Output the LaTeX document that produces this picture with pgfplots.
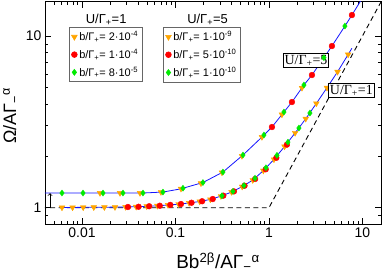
\documentclass[border=0pt]{standalone}
\usepackage{fontspec}
\setmainfont{Liberation Sans}
\newfontfamily\seriffont{Liberation Serif}
\usepackage{amsmath}
\usepackage{pgfplots}
\pgfplotsset{compat=1.18}
\definecolor{mOrange}{RGB}{255,165,0}
\definecolor{mRed}{RGB}{255,0,0}
\definecolor{mGreen}{RGB}{0,235,0}
\definecolor{mBlue}{RGB}{20,20,255}
\tikzset{
  myorm/.style={only marks, mark=triangle*, mark size=3.3, mark options={rotate=180, fill=mOrange, draw=mOrange}},
  myrdm/.style={only marks, mark=*, mark size=2.9, mark options={fill=mRed, draw=mRed}},
  mygrm/.style={only marks, mark=diamond*, mark size=3.0, mark options={fill=mGreen, draw=mGreen}},
}
\begin{document}
\begin{tikzpicture}
% ---------------- U/Gamma = 1 ----------------
\begin{axis}[name=main,
    xmode=log, ymode=log,
    scale only axis, width=336bp, height=222.3bp,
    xmin=0.00402, xmax=15.8, ymin=0.804, ymax=15.85,
    axis line style={line width=0.9pt},
    tick align=inside,
    major tick length=6bp, minor tick length=3.5bp,
    tick style={line width=0.7pt, black},
    xtick={0.01,0.1,1,10}, xticklabels={0.01,0.1,1,10},
    ytick={1,10}, yticklabels={1,10},
    minor xtick={0.005,0.006,0.007,0.008,0.009,0.02,0.03,0.04,0.05,0.06,0.07,0.08,0.09,0.2,0.3,0.4,0.5,0.6,0.7,0.8,0.9,2,3,4,5,6,7,8,9},
    minor ytick={0.9,2,3,4,5,6,7,8,9},
    tick label style={font=\fontsize{14}{15}\selectfont},
    legend cell align=left,
    legend style={draw=gray!80!black, line width=0.6pt, font=\fontsize{11}{12}\selectfont, inner sep=2pt, row sep=3pt, at={(0.072,0.885)}, anchor=north west},
  xlabel={Bb$^{\text{2β}}$/AΓ$_{\text{−}}{}^{\text{α}}$},
  ylabel={Ω/AΓ$_{\text{−}}{}^{\text{α}}$},
  xlabel style={font=\fontsize{19}{21}\selectfont, at={(rel axis cs:0.515,0)}, anchor=base, yshift=-45bp},
  ylabel style={font=\fontsize{18}{20}\selectfont, at={([xshift=-34bp]rel axis cs:0,0.486)}, anchor=center, rotate=0},
]
\addplot[black, dashed, line width=0.9pt, dash pattern=on 5pt off 3.5pt, forget plot] coordinates {(0.003,1) (1,1) (20,20)};
\addplot[mBlue, line width=0.8pt, forget plot] coordinates {
(0.0058,1.002) (0.00611,1.003) (0.01030,1.005) (0.01737,1.007) (0.02926,1.010) (0.04932,1.019) (0.06403,1.026) (0.08313,1.037) (0.1080,1.049) (0.1401,1.066) (0.1819,1.087) (0.2362,1.118) (0.3066,1.168) (0.3981,1.234) (0.5169,1.327) (0.6711,1.448) (0.8712,1.645) (1.131,1.911) (1.468,2.272) (1.906,2.727) (2.475,3.298) (3.214,4.050) (4.172,4.995) (5.416,6.187) (7.031,7.804) (7.72,8.49)};
\addplot[myorm] coordinates {
(0.00611,1.003)(0.00793,1.004)(0.01030,1.005)(0.01337,1.006)(0.01737,1.007)(0.02254,1.008)(0.02926,1.010)(0.03799,1.012)(0.04932,1.019)(0.06403,1.026)(0.08313,1.037)(0.1080,1.049)(0.1401,1.066)(0.1819,1.087)(0.2362,1.118)(0.3066,1.168)(0.3981,1.234)(0.5169,1.327)(0.6711,1.448)(0.8712,1.645)(1.131,1.911)(1.468,2.272)(1.906,2.727)(2.475,3.298)(3.214,4.050)(4.172,4.995)(5.416,6.187)(7.031,7.804)};
\addlegendentry{b/Γ\textsubscript{+}= 2·10\textsuperscript{-4}}
\addplot[myrdm] coordinates {
(0.0310,1.010)(0.0403,1.013)(0.0523,1.020)(0.0679,1.027)(0.0881,1.039)(0.1145,1.051)(0.1485,1.069)(0.1928,1.091)(0.2504,1.124)(0.3250,1.176)(0.4220,1.245)(0.5479,1.343)(0.7114,1.470)(0.9235,1.675)(1.199,1.953)(1.556,2.330)};
\addlegendentry{b/Γ\textsubscript{+}= 1·10\textsuperscript{-4}}
\addplot[mygrm] coordinates {
(0.3144,1.174)(0.4121,1.246)(0.5401,1.347)(0.7085,1.485)(0.9288,1.710)(1.218,2.019)(1.597,2.410)(2.094,2.912)(2.745,3.561)};
\addlegendentry{b/Γ\textsubscript{+}= 8·10\textsuperscript{-5}}
\node[font=\fontsize{13}{14}\selectfont] at (rel axis cs:0.182,0.918) {U/Γ\textsubscript{+}=1};
\end{axis}
% ---------------- U/Gamma = 5 ----------------
\begin{axis}[
    xmode=log, ymode=log, hide axis,
    scale only axis, width=336bp, height=222.3bp,
    xmin=0.00402, xmax=15.8, ymin=0.804, ymax=15.85,
    legend cell align=left,
    legend style={draw=gray!80!black, line width=0.6pt, font=\fontsize{11}{12}\selectfont, inner sep=2pt, row sep=3pt, at={(0.352,0.885)}, anchor=north west},
]
\addplot[mBlue, line width=0.8pt, forget plot] coordinates {
(0.00402,1.218)(0.02,1.218)(0.0449,1.218)(0.0735,1.234)(0.1117,1.285)(0.1203,1.299)(0.1968,1.402)(0.3221,1.614)(0.5273,2.027)(0.8415,2.580)(1.077,2.951)(1.447,3.609)(1.762,4.127)(2.367,5.184)(2.884,5.928)(3.874,7.483)(4.718,8.745)(6.497,11.43)(7.722,13.25)(9.40,15.78)(10.5,17.4)};
\addplot[myorm] coordinates {
(0.01558,1.218)(0.02550,1.218)(0.04174,1.218)(0.06997,1.233)(0.1145,1.290)(0.1874,1.387)(0.3144,1.603)(0.5143,2.003)(0.8415,2.580)(1.377,3.490)(2.254,4.991)};
\addlegendentry{b/Γ\textsubscript{+}= 1·10\textsuperscript{-9}}
\addplot[myrdm] coordinates {
(1.077,2.951)(1.762,4.127)(2.884,5.928)(4.718,8.745)(7.722,13.25)};
\addlegendentry{b/Γ\textsubscript{+}= 5·10\textsuperscript{-10}}
\addplot[mygrm] coordinates {
(0.00611,1.218)(0.01025,1.218)(0.01678,1.218)(0.02745,1.218)(0.04492,1.218)(0.07348,1.234)(0.1203,1.299)(0.1968,1.402)(0.3221,1.614)(0.5273,2.027)(0.8841,2.651)(1.447,3.609)(2.367,5.184)(3.874,7.483)(6.497,11.43)};
\addlegendentry{b/Γ\textsubscript{+}= 1·10\textsuperscript{-10}}
\node[font=\fontsize{13}{14}\selectfont] at (rel axis cs:0.484,0.918) {U/Γ\textsubscript{+}=5};
\draw[->, line width=0.8pt] (axis cs:0.00455,1) -- (axis cs:0.00455,1.215);
\node[draw=black, fill=white, line width=0.7pt, inner sep=1.2pt, font=\seriffont\fontsize{14}{15}\selectfont] at (axis cs:2.49,7.2) {U/Γ\textsubscript{+}=5};
\node[draw=black, fill=white, line width=0.7pt, inner sep=1.2pt, font=\seriffont\fontsize{14}{15}\selectfont] at (axis cs:7.62,4.815) {U/Γ\textsubscript{+}=1};
\end{axis}
\pgfresetboundingbox
\path ([shift={(-45bp,-49bp)}]main.south west) rectangle ([shift={(1bp,1.7bp)}]main.north east);
\end{tikzpicture}
\end{document}
